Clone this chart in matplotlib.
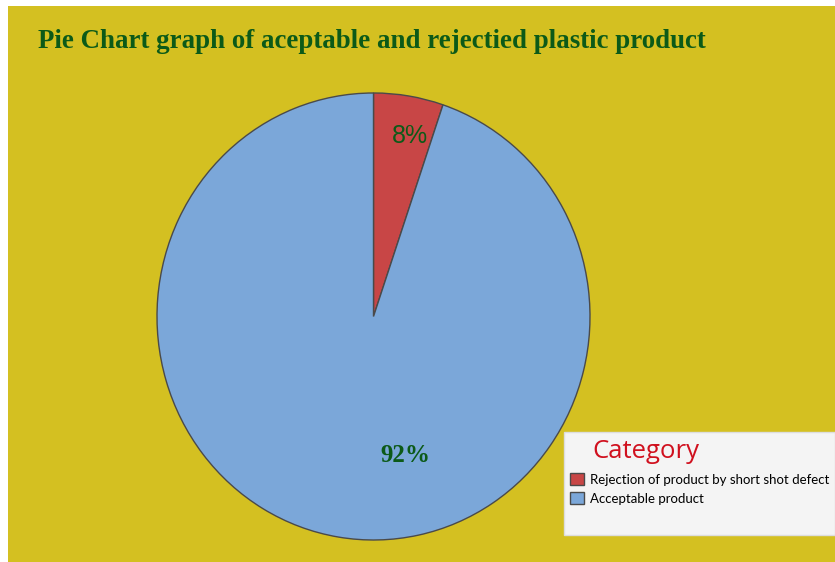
import matplotlib.pyplot as plt
from matplotlib.patches import Rectangle

# Data
categories = ["Rejection of product by short shot defect", "Acceptable product"]
slice_sizes = [5.2, 94.8]          # wedge sizes as drawn in the picture
slice_labels = ["8%", "92%"]       # labels printed on the picture
colors = ["#C84646", "#7BA7D9"]

W, H = 835, 562
fig = plt.figure(figsize=(W / 100, H / 100), dpi=100)
fig.patch.set_facecolor("white")

# yellow background panel
fig.patches.append(Rectangle((8 / W, 0), 1 - 8 / W, 1 - 6 / H, transform=fig.transFigure,
                             facecolor="#D4C021", edgecolor="none", zorder=-5))

# pie axes (slightly taller than wide, as in the reference)
left, right, top, bottom = 157, 590, 93, 540
ax = fig.add_axes([left / W, 1 - bottom / H, (right - left) / W, (bottom - top) / H])
ax.set_zorder(2)
ax.set_facecolor("none")
wedges, _ = ax.pie(slice_sizes, colors=colors, startangle=90, counterclock=False,
                   wedgeprops=dict(edgecolor="#4A4A4A", linewidth=1.0))
ax.set_aspect("auto")
ax.set_xlim(-1, 1)
ax.set_ylim(-1, 1)
ax.axis("off")

# percentage labels
fig.text(410 / W, 1 - 136 / H, slice_labels[0], ha="center", va="center",
         fontsize=18, color="#0C5A18", family="Liberation Sans", zorder=5)
fig.text(405 / W, 1 - 456 / H, slice_labels[1], ha="center", va="center",
         fontsize=18, color="#0C5A18", family="Liberation Serif", fontweight="bold", zorder=5)

# title
fig.text(38 / W, 1 - 42 / H, "Pie Chart graph of aceptable and rejectied plastic product",
         ha="left", va="center", fontsize=19.4, color="#0C5A18",
         family="Liberation Serif", fontweight="bold")

# legend box
fig.patches.append(Rectangle((564 / W, 1 - 535 / H), (W - 564) / W, 103 / H,
                             transform=fig.transFigure, facecolor="#F4F4F4",
                             edgecolor="#DDDDDD", linewidth=1, zorder=6))
fig.text(592 / W, 1 - 451 / H, "Category", ha="left", va="center",
         fontsize=18.5, color="#D0101E", family="Open Sans", zorder=8)
leg = fig.legend(wedges, categories, loc="upper left",
                 bbox_to_anchor=(570 / W, 1 - 473 / H), frameon=False,
                 prop=dict(family="Lato", size=9.5), handlelength=1.05,
                 handleheight=1.05, handletextpad=0.5, labelspacing=0.5,
                 borderpad=0, borderaxespad=0)
leg.set_zorder(8)

fig.savefig("out.png", dpi=100)
